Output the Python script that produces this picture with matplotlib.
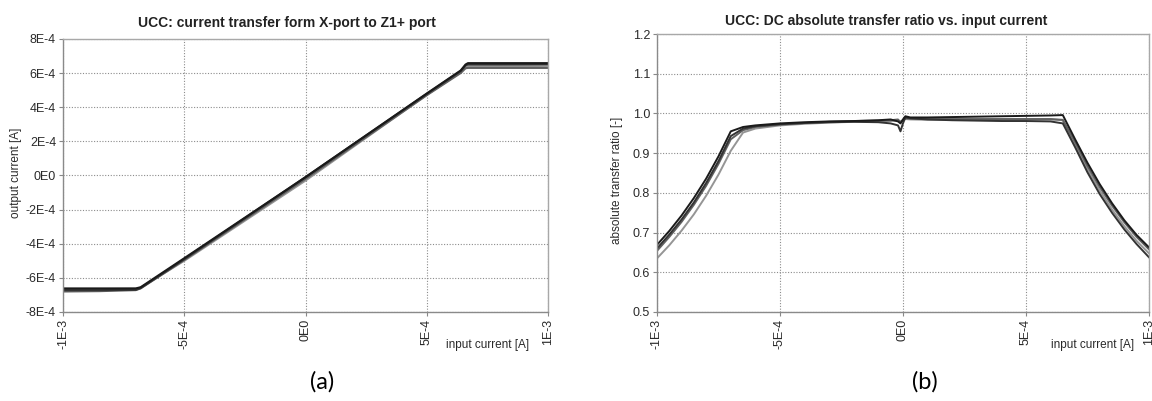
import matplotlib.pyplot as plt
import numpy as np

plt.rcParams.update({"font.family": ["Liberation Sans", "DejaVu Sans"], "font.size": 8})

# panel (a): output current vs input current [A]
xa = [-1e-3, -8.5e-4, -7.0e-4, -6.8e-4, -5e-4, 0.0, 5e-4, 6.4e-4, 6.6e-4, 6.7e-4, 8e-4, 1e-3]
ya_1 = [-6.62e-4, -6.62e-4, -6.62e-4, -6.55e-4, -4.85e-4, -0.1e-4, 4.80e-4, 6.15e-4, 6.50e-4, 6.58e-4, 6.58e-4, 6.58e-4]
ya_2 = [-6.72e-4, -6.72e-4, -6.70e-4, -6.60e-4, -4.90e-4, -0.1e-4, 4.78e-4, 6.12e-4, 6.45e-4, 6.50e-4, 6.50e-4, 6.52e-4]
ya_3 = [-6.80e-4, -6.78e-4, -6.72e-4, -6.62e-4, -4.95e-4, -0.2e-4, 4.70e-4, 6.00e-4, 6.28e-4, 6.30e-4, 6.30e-4, 6.30e-4]
ya_4 = [-6.68e-4, -6.66e-4, -6.64e-4, -6.58e-4, -5.00e-4, -0.3e-4, 4.72e-4, 6.05e-4, 6.35e-4, 6.40e-4, 6.40e-4, 6.42e-4]

# panel (b): absolute transfer ratio vs input current
xb = [-1e-3, -9.5e-4, -9e-4, -8.5e-4, -8e-4, -7.5e-4, -7e-4, -6.5e-4, -6e-4, -5e-4,
      -4e-4, -3e-4, -2e-4, -1e-4, -5e-5, -2e-5, -1e-5, 0.0, 1e-5, 3e-5,
      1e-4, 2e-4, 3e-4, 4e-4, 5e-4, 6e-4, 6.5e-4, 7e-4, 7.5e-4, 8e-4,
      8.5e-4, 9e-4, 9.5e-4, 1e-3]
yb_1 = [0.669, 0.704, 0.743, 0.787, 0.836, 0.892, 0.955, 0.966, 0.970, 0.975,
        0.978, 0.980, 0.981, 0.983, 0.985, 0.980, 0.975, 0.985, 0.993, 0.990,
        0.990, 0.991, 0.992, 0.993, 0.994, 0.995, 0.996, 0.935, 0.876, 0.822,
        0.774, 0.731, 0.694, 0.663]
yb_2 = [0.660, 0.695, 0.733, 0.776, 0.825, 0.880, 0.943, 0.962, 0.968, 0.973,
        0.976, 0.978, 0.979, 0.978, 0.975, 0.970, 0.955, 0.975, 0.990, 0.988,
        0.985, 0.983, 0.982, 0.981, 0.981, 0.980, 0.975, 0.915, 0.852, 0.797,
        0.750, 0.708, 0.671, 0.638]
yb_3 = [0.654, 0.689, 0.727, 0.770, 0.818, 0.873, 0.935, 0.958, 0.966, 0.972,
        0.976, 0.979, 0.981, 0.982, 0.983, 0.985, 0.978, 0.982, 0.988, 0.987,
        0.986, 0.986, 0.986, 0.986, 0.986, 0.986, 0.984, 0.928, 0.868, 0.815,
        0.768, 0.726, 0.689, 0.658]
yb_4 = [0.635, 0.668, 0.705, 0.746, 0.793, 0.846, 0.906, 0.952, 0.962, 0.970,
        0.974, 0.977, 0.979, 0.980, 0.981, 0.982, 0.980, 0.983, 0.986, 0.985,
        0.984, 0.984, 0.984, 0.985, 0.985, 0.985, 0.983, 0.922, 0.860, 0.806,
        0.758, 0.716, 0.679, 0.648]

xticks = [-1e-3, -5e-4, 0.0, 5e-4, 1e-3]
xtick_labels = ["-1E-3", "-5E-4", "0E0", "5E-4", "1E-3"]
yticks_a = [-8e-4, -6e-4, -4e-4, -2e-4, 0.0, 2e-4, 4e-4, 6e-4, 8e-4]
ytick_labels_a = ["-8E-4", "-6E-4", "-4E-4", "-2E-4", "0E0", "2E-4", "4E-4", "6E-4", "8E-4"]
yticks_b = [0.5, 0.6, 0.7, 0.8, 0.9, 1.0, 1.1, 1.2]
ytick_labels_b = ["0.5", "0.6", "0.7", "0.8", "0.9", "1.0", "1.1", "1.2"]

line_colors = ["#1a1a1a", "#333333", "#606060", "#959595"]

fig = plt.figure(figsize=(11.52, 4.01), dpi=100)
ax_a = fig.add_axes([0.0547, 0.222, 0.421, 0.681])
ax_b = fig.add_axes([0.5703, 0.222, 0.427, 0.693])


def style(ax, yticks, ylabels):
    ax.set_xlim(-1e-3, 1e-3)
    ax.set_ylim(yticks[0], yticks[-1])
    ax.set_xticks(xticks)
    ax.set_xticklabels(xtick_labels, rotation=90, color="#2a2a2a", fontsize=9)
    ax.set_yticks(yticks)
    ax.set_yticklabels(ylabels, color="#2a2a2a", fontsize=9)
    ax.grid(True, linestyle=(0, (1, 1.5)), color="#8c8c8c", linewidth=0.8)
    ax.tick_params(length=3, width=0.8, color="#888888", pad=2)
    for s in ax.spines.values():
        s.set_color("#8a8a8a")
        s.set_linewidth(1.0)
    ax.spines["top"].set_color("#a8a8a8")
    ax.spines["right"].set_color("#a8a8a8")


for ys, c in zip([ya_4, ya_3, ya_2, ya_1], line_colors[::-1]):
    ax_a.plot(xa, ys, color=c, linewidth=1.5)
style(ax_a, yticks_a, ytick_labels_a)

for ys, c in zip([yb_4, yb_3, yb_2, yb_1], line_colors[::-1]):
    ax_b.plot(xb, ys, color=c, linewidth=1.4)
style(ax_b, yticks_b, ytick_labels_b)

fig.text(0.249, 0.943, "UCC: current transfer form X-port to Z1+ port", ha="center", va="center",
         fontsize=10, fontweight="bold", color="#222222")
fig.text(0.769, 0.948, "UCC: DC absolute transfer ratio vs. input current", ha="center", va="center",
         fontsize=10, fontweight="bold", color="#222222")
fig.text(0.014, 0.568, "output current [A]", rotation=90, ha="center", va="center", fontsize=8.5, color="#2a2a2a")
fig.text(0.536, 0.551, "absolute transfer ratio [-]", rotation=90, ha="center", va="center", fontsize=8.5, color="#2a2a2a")
fig.text(0.423, 0.14, "input current [A]", ha="center", va="center", fontsize=8.5, color="#2a2a2a")
fig.text(0.948, 0.14, "input current [A]", ha="center", va="center", fontsize=8.5, color="#2a2a2a")

fig.text(0.280, 0.048, "(a)", ha="center", va="center", fontsize=17, family=["Lato", "DejaVu Sans"])
fig.text(0.803, 0.048, "(b)", ha="center", va="center", fontsize=17, family=["Lato", "DejaVu Sans"])

fig.savefig("out.png", dpi=100)
